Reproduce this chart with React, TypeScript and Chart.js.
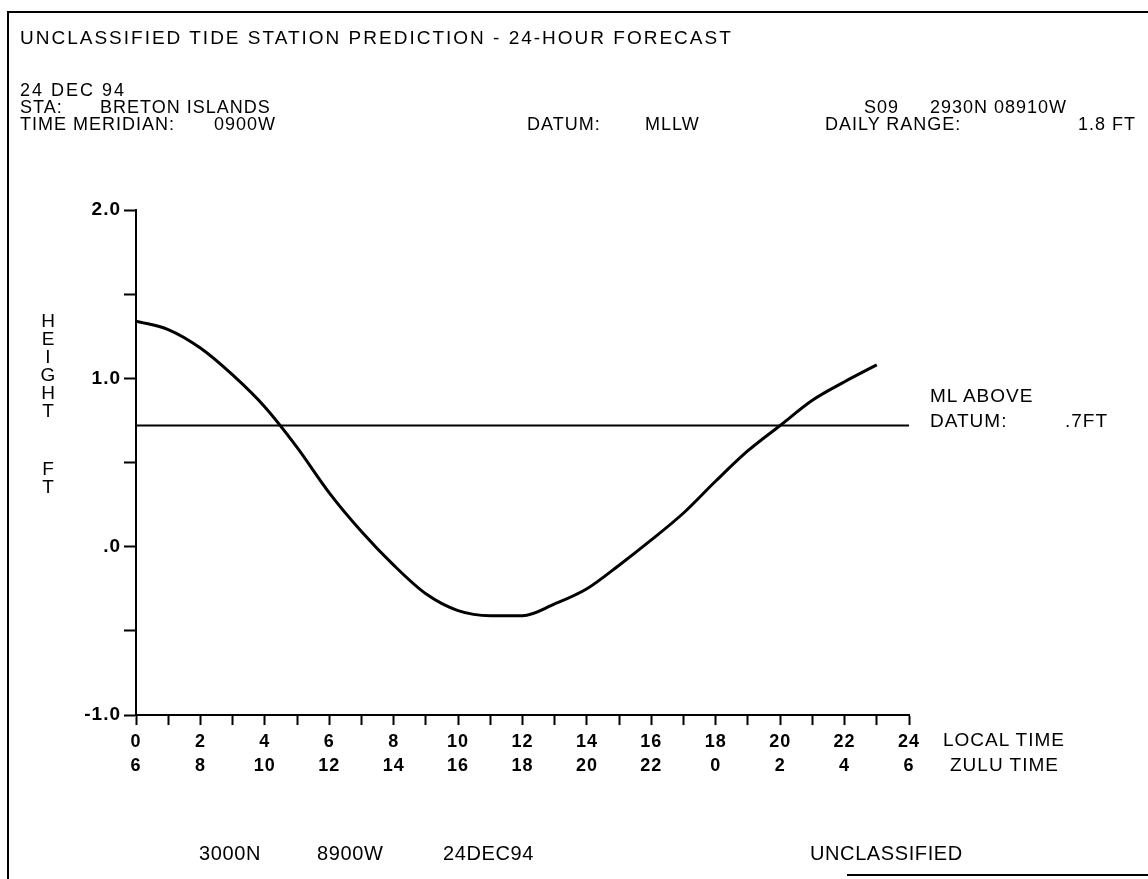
import React, { useEffect, useRef } from 'react';
import { Chart, registerables } from 'chart.js';

Chart.register(...registerables);

const FONT = '"Liberation Sans", Arial, Helvetica, sans-serif';

// Predicted tide height (ft above MLLW) by local hour
const localHours = [0, 1, 2, 3, 4, 5, 6, 7, 8, 9, 10, 11, 12, 13, 14, 15, 16, 17, 18, 19, 20, 21, 22, 23];
const heightFt = [1.34, 1.29, 1.18, 1.02, 0.83, 0.59, 0.32, 0.09, -0.11, -0.28, -0.38, -0.41, -0.41, -0.34, -0.25, -0.11, 0.04, 0.2, 0.39, 0.57, 0.72, 0.87, 0.98, 1.08];

// Mean level above datum line
const meanLevelHours = [0, 24];
const meanLevelFt = [0.72, 0.72];

// Axis labels
const localTimeLabels = ['0', '2', '4', '6', '8', '10', '12', '14', '16', '18', '20', '22', '24'];
const zuluTimeLabels = ['6', '8', '10', '12', '14', '16', '18', '20', '22', '0', '2', '4', '6'];
const yTickValues = [-1, 0, 1, 2];
const yTickLabels = ['-1.0', '.0', '1.0', '2.0'];
const yAxisLetters = ['H', 'E', 'I', 'G', 'H', 'T', 'F', 'T'];

type TxtProps = { x: number; base: number; size?: number; ls?: number; align?: 'left' | 'right' | 'center'; children: React.ReactNode };

function Txt({ x, base, size = 18, ls = 1, align = 'left', children }: TxtProps) {
  const top = base - 0.8465 * size;
  const tx = align === 'right' ? 'translateX(-100%)' : align === 'center' ? 'translateX(-50%)' : 'none';
  return (
    <div
      style={{
        position: 'absolute',
        left: x,
        top,
        fontFamily: FONT,
        fontSize: size,
        lineHeight: `${size}px`,
        letterSpacing: ls,
        whiteSpace: 'pre',
        color: '#000',
        transform: tx,
      }}
    >
      {children}
    </div>
  );
}

const letterSpacingPlugin = {
  id: 'letterSpacing',
  beforeUpdate(chart: any) {
    chart.ctx.letterSpacing = '1px';
  },
  beforeDraw(chart: any) {
    chart.ctx.letterSpacing = '1px';
  },
};

export default function App() {
  const ref = useRef<HTMLCanvasElement | null>(null);

  useEffect(() => {
    if (!ref.current) return;
    const chart = new Chart(ref.current, {
      type: 'line',
      data: {
        datasets: [
          {
            label: 'Height',
            data: localHours.map((h, i) => ({ x: h, y: heightFt[i] })),
            borderColor: '#000',
            borderWidth: 3,
            pointRadius: 0,
            cubicInterpolationMode: 'monotone',
            fill: false,
          },
          {
            label: 'ML',
            data: meanLevelHours.map((h, i) => ({ x: h, y: meanLevelFt[i] })),
            borderColor: '#000',
            borderWidth: 2,
            pointRadius: 0,
            fill: false,
          },
        ],
      },
      options: {
        responsive: false,
        animation: false,
        devicePixelRatio: 1,
        layout: { padding: { left: 0, right: 239, top: 210, bottom: 94 } },
        plugins: { legend: { display: false }, tooltip: { enabled: false }, title: { display: false } },
        scales: {
          x: {
            type: 'linear',
            min: 0,
            max: 24,
            afterFit: (s: any) => {
              s.height = 70;
            },
            ticks: {
              stepSize: 1,
              autoSkip: false,
              maxRotation: 0,
              color: '#000',
              padding: 5,
              font: { family: FONT, size: 18, weight: 'bold', lineHeight: 1.35 },
              callback: (v: any) => {
                const n = Number(v);
                if (n % 2 !== 0) return '';
                return [localTimeLabels[n / 2], zuluTimeLabels[n / 2]];
              },
            },
            grid: { display: true, drawOnChartArea: false, drawTicks: true, tickLength: 10, tickWidth: 2, tickColor: '#000' },
            border: { display: true, color: '#000', width: 2 },
          },
          y: {
            type: 'linear',
            min: -1,
            max: 2,
            afterFit: (s: any) => {
              s.width = 136;
            },
            ticks: {
              stepSize: 0.5,
              color: '#000',
              padding: 3,
              font: { family: FONT, size: 19, weight: 'bold' },
              callback: (v: any) => {
                const idx = yTickValues.indexOf(Number(v));
                return idx >= 0 ? yTickLabels[idx] : '';
              },
            },
            grid: { display: true, drawOnChartArea: false, drawTicks: true, tickLength: 12, tickWidth: 2, tickColor: '#000' },
            border: { display: true, color: '#000', width: 2 },
          },
        },
      },
      plugins: [letterSpacingPlugin],
    } as any);
    return () => chart.destroy();
  }, []);

  const letterBases = [327, 345, 363, 381, 399, 417, 475, 493];

  return (
    <div style={{ position: 'absolute', left: 0, top: 0, width: 1148, height: 879, overflow: 'hidden', background: '#fff' }}>
      <div
        style={{
          position: 'absolute',
          left: 7,
          top: 11,
          width: 1160,
          height: 880,
          borderLeft: '2px solid #000',
          borderTop: '2px solid #000',
        }}
      />
      <div style={{ position: 'absolute', left: 847, top: 874, width: 301, height: 2, background: '#000' }} />
      <canvas ref={ref} width={1148} height={879} style={{ position: 'absolute', left: 0, top: 0 }} />

      <Txt x={20} base={44} size={19} ls={2}>UNCLASSIFIED TIDE STATION PREDICTION - 24-HOUR FORECAST</Txt>
      <Txt x={20} base={96} ls={2}>24 DEC 94</Txt>
      <Txt x={20} base={113}>STA:</Txt>
      <Txt x={100} base={113}>BRETON ISLANDS</Txt>
      <Txt x={20} base={130}>TIME MERIDIAN:</Txt>
      <Txt x={214} base={130}>0900W</Txt>
      <Txt x={527} base={130}>DATUM:</Txt>
      <Txt x={645} base={130}>MLLW</Txt>
      <Txt x={864} base={113}>S09</Txt>
      <Txt x={930} base={113}>2930N 08910W</Txt>
      <Txt x={825} base={130}>DAILY RANGE:</Txt>
      <Txt x={1136} base={130} align="right">1.8 FT</Txt>

      <Txt x={930} base={402} size={19}>ML ABOVE</Txt>
      <Txt x={930} base={427} size={19}>DATUM:</Txt>
      <Txt x={1065} base={427} size={19}>.7FT</Txt>

      {yAxisLetters.map((ch, i) => (
        <Txt key={i} x={48} base={letterBases[i]} size={19} align="center" ls={0}>
          {ch}
        </Txt>
      ))}

      <Txt x={943} base={746} size={19}>LOCAL TIME</Txt>
      <Txt x={950} base={771} size={19}>ZULU TIME</Txt>

      <Txt x={199} base={860} size={20} ls={0.6}>3000N</Txt>
      <Txt x={317} base={860} size={20} ls={0.6}>8900W</Txt>
      <Txt x={443} base={860} size={20} ls={0.6}>24DEC94</Txt>
      <Txt x={810} base={860} size={20} ls={0.6}>UNCLASSIFIED</Txt>
    </div>
  );
}
